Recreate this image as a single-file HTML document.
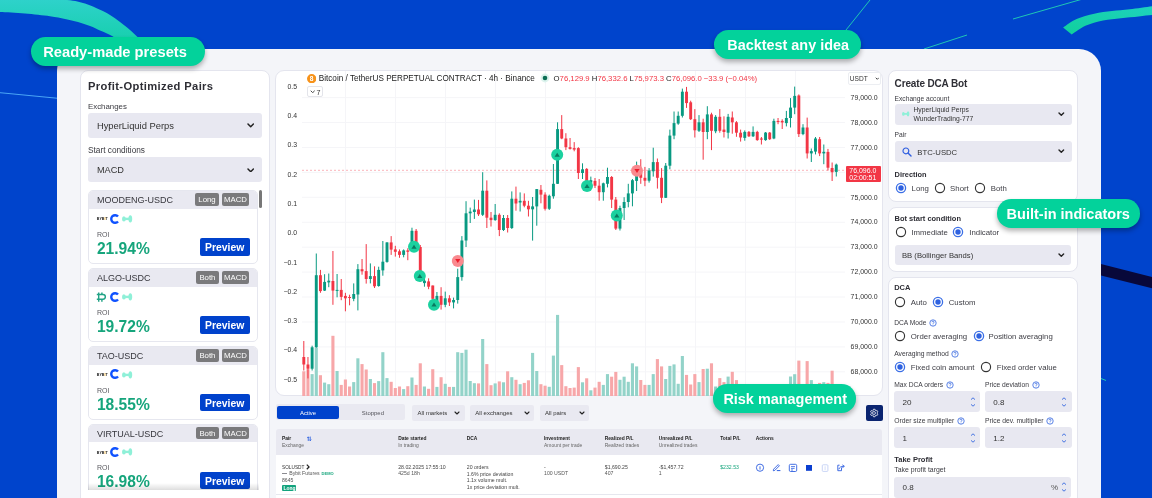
<!DOCTYPE html>
<html><head><meta charset="utf-8">
<style>
*{margin:0;padding:0;box-sizing:border-box}
html,body{width:1152px;height:498px;overflow:hidden}
body{background:#0044cc;font-family:"Liberation Sans",sans-serif;color:#2b2b33;position:relative}
.a{position:absolute}
.t{position:absolute;line-height:1;white-space:nowrap}
#deco{position:absolute;left:0;top:0}
#panel{position:absolute;left:57px;top:49px;width:1044px;height:480px;background:#f4f5f9;border-radius:22px}
.card{position:absolute;background:#fff;border:1px solid #e4e5ee;border-radius:8px}
.pill{position:absolute;background:#03d29b;box-shadow:0 3px 5px rgba(0,0,0,.3)}
.item{width:169.8px;height:73.6px;background:#fff;border:1px solid #e6e7ef;border-radius:5px;overflow:hidden}
.ihd{position:absolute;left:0;top:0;right:0;height:17.5px;background:#e9e9f1}
.tag{height:12.5px;background:#7a7a7c;border-radius:2px;color:#fff;font-size:7.8px;line-height:14.2px;text-align:center}
.prev{width:49.85px;height:17.5px;background:#0042cc;border-radius:2px;color:#fff;font-weight:bold;font-size:10.4px;line-height:19.2px;text-align:center}
#chart{position:absolute;left:0;top:0}
#root{position:absolute;left:0;top:0;width:1152px;height:498px;overflow:hidden;will-change:transform}
</style></head><body><div id="root">
<svg id="deco" width="1152" height="498" viewBox="0 0 1152 498">
<defs><linearGradient id="tg" x1="0" y1="0" x2="0" y2="1"><stop offset="0" stop-color="#2fd2cc"/><stop offset="1" stop-color="#16cfac"/></linearGradient><linearGradient id="tg2" x1="1" y1="0" x2="0" y2="1"><stop offset="0" stop-color="#1fd2c0"/><stop offset="1" stop-color="#10d09c"/></linearGradient></defs>
<path d="M-5.00,-2.50 C0.83,-2.38 18.00,-2.22 30.00,-1.80 C42.00,-1.38 57.83,-0.90 67.00,0.00 C76.17,0.90 79.50,1.97 85.00,3.60 C90.50,5.23 95.83,7.90 100.00,9.80 C104.17,11.70 106.67,12.97 110.00,15.00 C113.33,17.03 116.67,19.50 120.00,22.00 C123.33,24.50 127.17,27.58 130.00,30.00 C132.83,32.42 135.00,34.50 137.00,36.50 C139.00,38.50 141.17,41.08 142.00,42.00 L118.00,42.00 C117.17,41.08 114.83,37.93 113.00,36.50 C111.17,35.07 109.17,34.42 107.00,33.40 C104.83,32.38 102.83,31.63 100.00,30.40 C97.17,29.17 93.67,27.40 90.00,26.00 C86.33,24.60 82.17,23.17 78.00,22.00 C73.83,20.83 69.67,19.95 65.00,19.00 C60.33,18.05 56.67,17.20 50.00,16.30 C43.33,15.40 33.33,14.30 25.00,13.60 C16.67,12.90 5.00,12.38 0.00,12.10 C-5.00,11.82 -4.17,11.93 -5.00,11.90 Z" fill="url(#tg)"/>
<path d="M1063.10,27.50 C1065.35,26.08 1071.40,21.30 1076.60,19.00 C1081.80,16.70 1088.40,15.02 1094.30,13.70 C1100.20,12.38 1106.10,11.83 1112.00,11.10 C1117.90,10.37 1123.03,10.12 1129.70,9.30 C1136.37,8.48 1146.95,6.92 1152.00,6.20 C1157.05,5.48 1158.67,5.20 1160.00,5.00 L1160.00,14.50 C1158.67,14.60 1155.57,14.78 1152.00,15.10 C1148.43,15.42 1143.78,15.88 1138.60,16.40 C1133.42,16.92 1126.82,17.53 1120.90,18.20 C1114.98,18.87 1109.02,19.15 1103.10,20.40 C1097.18,21.65 1090.63,23.37 1085.40,25.70 C1080.17,28.03 1073.98,32.95 1071.70,34.40 Z" fill="url(#tg2)"/>
<line x1="0" y1="92.7" x2="60" y2="98.5" stroke="#4aa6f5" stroke-width="1"/>
<line x1="870" y1="0" x2="846" y2="30" stroke="#1fc7b4" stroke-width="1"/>
<line x1="967" y1="35" x2="924" y2="49" stroke="#1fc7b4" stroke-width="1"/>
<line x1="1013" y1="19" x2="1081" y2="-0.5" stroke="#1fc7b4" stroke-width="1"/>
<path d="M1095,262.6 L1160,279 L1160,290.3 L1095,273.9 Z" fill="#08083a"/>
<line x1="1101" y1="378.5" x2="1106" y2="380.5" stroke="#1fc7b4" stroke-width="1"/>
</svg>

<div id="panel"></div>

<div class="card" style="left:80px;top:70px;width:190px;height:460px"></div>
<div class="card" style="left:275px;top:70px;width:608px;height:326.3px;border-radius:9px"></div>
<div class="card" style="left:888px;top:70px;width:190px;height:132px"></div>
<div class="card" style="left:888px;top:207px;width:190px;height:65px"></div>
<div class="card" style="left:888px;top:277px;width:190px;height:260px"></div>

<svg id="chart" width="1152" height="498" viewBox="0 0 1152 498">
<line x1="302" y1="97.60" x2="845" y2="97.60" stroke="#f5f5f8" stroke-width="1"/>
<line x1="302" y1="122.53" x2="845" y2="122.53" stroke="#f5f5f8" stroke-width="1"/>
<line x1="302" y1="147.46" x2="845" y2="147.46" stroke="#f5f5f8" stroke-width="1"/>
<line x1="302" y1="172.39" x2="845" y2="172.39" stroke="#f5f5f8" stroke-width="1"/>
<line x1="302" y1="197.32" x2="845" y2="197.32" stroke="#f5f5f8" stroke-width="1"/>
<line x1="302" y1="222.25" x2="845" y2="222.25" stroke="#f5f5f8" stroke-width="1"/>
<line x1="302" y1="247.18" x2="845" y2="247.18" stroke="#f5f5f8" stroke-width="1"/>
<line x1="302" y1="272.11" x2="845" y2="272.11" stroke="#f5f5f8" stroke-width="1"/>
<line x1="302" y1="297.04" x2="845" y2="297.04" stroke="#f5f5f8" stroke-width="1"/>
<line x1="302" y1="321.97" x2="845" y2="321.97" stroke="#f5f5f8" stroke-width="1"/>
<line x1="302" y1="346.90" x2="845" y2="346.90" stroke="#f5f5f8" stroke-width="1"/>
<line x1="302" y1="371.83" x2="845" y2="371.83" stroke="#f5f5f8" stroke-width="1"/>
<line x1="345.5" y1="71" x2="345.5" y2="396" stroke="#f5f5f8" stroke-width="1"/>
<line x1="395.5" y1="71" x2="395.5" y2="396" stroke="#f5f5f8" stroke-width="1"/>
<line x1="445.5" y1="71" x2="445.5" y2="396" stroke="#f5f5f8" stroke-width="1"/>
<line x1="495.5" y1="71" x2="495.5" y2="396" stroke="#f5f5f8" stroke-width="1"/>
<line x1="545.5" y1="71" x2="545.5" y2="396" stroke="#f5f5f8" stroke-width="1"/>
<line x1="595.5" y1="71" x2="595.5" y2="396" stroke="#f5f5f8" stroke-width="1"/>
<line x1="645.5" y1="71" x2="645.5" y2="396" stroke="#f5f5f8" stroke-width="1"/>
<line x1="695.5" y1="71" x2="695.5" y2="396" stroke="#f5f5f8" stroke-width="1"/>
<line x1="745.5" y1="71" x2="745.5" y2="396" stroke="#f5f5f8" stroke-width="1"/>
<line x1="795.5" y1="71" x2="795.5" y2="396" stroke="#f5f5f8" stroke-width="1"/>
<rect x="302.25" y="371.30" width="3.1" height="24.70" fill="#f7a7a9"/>
<rect x="306.41" y="369.20" width="3.1" height="26.80" fill="#f7a7a9"/>
<rect x="310.57" y="374.10" width="3.1" height="21.90" fill="#93d3c9"/>
<rect x="314.73" y="347.80" width="3.1" height="48.20" fill="#93d3c9"/>
<rect x="318.89" y="375.20" width="3.1" height="20.80" fill="#f7a7a9"/>
<rect x="323.05" y="382.60" width="3.1" height="13.40" fill="#93d3c9"/>
<rect x="327.21" y="384.20" width="3.1" height="11.80" fill="#93d3c9"/>
<rect x="331.37" y="335.80" width="3.1" height="60.20" fill="#f7a7a9"/>
<rect x="335.53" y="371.00" width="3.1" height="25.00" fill="#93d3c9"/>
<rect x="339.69" y="384.90" width="3.1" height="11.10" fill="#f7a7a9"/>
<rect x="343.85" y="379.50" width="3.1" height="16.50" fill="#f7a7a9"/>
<rect x="348.01" y="386.50" width="3.1" height="9.50" fill="#f7a7a9"/>
<rect x="352.17" y="382.10" width="3.1" height="13.90" fill="#93d3c9"/>
<rect x="356.33" y="358.30" width="3.1" height="37.70" fill="#93d3c9"/>
<rect x="360.49" y="364.10" width="3.1" height="31.90" fill="#f7a7a9"/>
<rect x="364.65" y="369.50" width="3.1" height="26.50" fill="#f7a7a9"/>
<rect x="368.81" y="379.00" width="3.1" height="17.00" fill="#93d3c9"/>
<rect x="372.97" y="383.10" width="3.1" height="12.90" fill="#f7a7a9"/>
<rect x="377.13" y="381.10" width="3.1" height="14.90" fill="#93d3c9"/>
<rect x="381.29" y="352.20" width="3.1" height="43.80" fill="#93d3c9"/>
<rect x="385.45" y="378.10" width="3.1" height="17.90" fill="#93d3c9"/>
<rect x="389.61" y="381.80" width="3.1" height="14.20" fill="#f7a7a9"/>
<rect x="393.77" y="388.00" width="3.1" height="8.00" fill="#f7a7a9"/>
<rect x="397.93" y="386.50" width="3.1" height="9.50" fill="#f7a7a9"/>
<rect x="402.09" y="389.10" width="3.1" height="6.90" fill="#93d3c9"/>
<rect x="406.25" y="386.20" width="3.1" height="9.80" fill="#f7a7a9"/>
<rect x="410.41" y="377.50" width="3.1" height="18.50" fill="#93d3c9"/>
<rect x="414.57" y="384.90" width="3.1" height="11.10" fill="#f7a7a9"/>
<rect x="418.73" y="363.30" width="3.1" height="32.70" fill="#f7a7a9"/>
<rect x="422.89" y="386.50" width="3.1" height="9.50" fill="#93d3c9"/>
<rect x="427.05" y="388.80" width="3.1" height="7.20" fill="#f7a7a9"/>
<rect x="431.21" y="369.20" width="3.1" height="26.80" fill="#f7a7a9"/>
<rect x="435.37" y="386.90" width="3.1" height="9.10" fill="#93d3c9"/>
<rect x="439.53" y="377.20" width="3.1" height="18.80" fill="#f7a7a9"/>
<rect x="443.69" y="383.80" width="3.1" height="12.20" fill="#93d3c9"/>
<rect x="447.85" y="386.90" width="3.1" height="9.10" fill="#f7a7a9"/>
<rect x="452.01" y="386.90" width="3.1" height="9.10" fill="#93d3c9"/>
<rect x="456.17" y="352.20" width="3.1" height="43.80" fill="#93d3c9"/>
<rect x="460.33" y="352.90" width="3.1" height="43.10" fill="#93d3c9"/>
<rect x="464.49" y="349.70" width="3.1" height="46.30" fill="#93d3c9"/>
<rect x="468.65" y="381.00" width="3.1" height="15.00" fill="#93d3c9"/>
<rect x="472.81" y="383.20" width="3.1" height="12.80" fill="#93d3c9"/>
<rect x="476.97" y="383.40" width="3.1" height="12.60" fill="#f7a7a9"/>
<rect x="481.13" y="339.00" width="3.1" height="57.00" fill="#93d3c9"/>
<rect x="485.29" y="364.10" width="3.1" height="31.90" fill="#f7a7a9"/>
<rect x="489.45" y="385.20" width="3.1" height="10.80" fill="#f7a7a9"/>
<rect x="493.61" y="383.40" width="3.1" height="12.60" fill="#93d3c9"/>
<rect x="497.77" y="381.40" width="3.1" height="14.60" fill="#f7a7a9"/>
<rect x="501.93" y="382.30" width="3.1" height="13.70" fill="#93d3c9"/>
<rect x="506.09" y="371.30" width="3.1" height="24.70" fill="#f7a7a9"/>
<rect x="510.25" y="377.20" width="3.1" height="18.80" fill="#93d3c9"/>
<rect x="514.41" y="379.80" width="3.1" height="16.20" fill="#f7a7a9"/>
<rect x="518.57" y="384.20" width="3.1" height="11.80" fill="#93d3c9"/>
<rect x="522.73" y="382.90" width="3.1" height="13.10" fill="#f7a7a9"/>
<rect x="526.89" y="380.30" width="3.1" height="15.70" fill="#f7a7a9"/>
<rect x="531.05" y="352.90" width="3.1" height="43.10" fill="#93d3c9"/>
<rect x="535.21" y="371.00" width="3.1" height="25.00" fill="#93d3c9"/>
<rect x="539.37" y="384.20" width="3.1" height="11.80" fill="#f7a7a9"/>
<rect x="543.53" y="385.70" width="3.1" height="10.30" fill="#f7a7a9"/>
<rect x="547.69" y="386.80" width="3.1" height="9.20" fill="#93d3c9"/>
<rect x="551.85" y="355.60" width="3.1" height="40.40" fill="#93d3c9"/>
<rect x="556.01" y="314.90" width="3.1" height="81.10" fill="#93d3c9"/>
<rect x="560.17" y="365.10" width="3.1" height="30.90" fill="#f7a7a9"/>
<rect x="564.33" y="386.20" width="3.1" height="9.80" fill="#f7a7a9"/>
<rect x="568.49" y="388.00" width="3.1" height="8.00" fill="#f7a7a9"/>
<rect x="572.65" y="387.60" width="3.1" height="8.40" fill="#f7a7a9"/>
<rect x="576.81" y="367.10" width="3.1" height="28.90" fill="#f7a7a9"/>
<rect x="580.97" y="382.30" width="3.1" height="13.70" fill="#93d3c9"/>
<rect x="585.13" y="378.30" width="3.1" height="17.70" fill="#f7a7a9"/>
<rect x="589.29" y="390.30" width="3.1" height="5.70" fill="#93d3c9"/>
<rect x="593.45" y="387.60" width="3.1" height="8.40" fill="#f7a7a9"/>
<rect x="597.61" y="381.80" width="3.1" height="14.20" fill="#f7a7a9"/>
<rect x="601.77" y="384.90" width="3.1" height="11.10" fill="#93d3c9"/>
<rect x="605.93" y="374.10" width="3.1" height="21.90" fill="#93d3c9"/>
<rect x="610.09" y="376.70" width="3.1" height="19.30" fill="#f7a7a9"/>
<rect x="614.25" y="371.90" width="3.1" height="24.10" fill="#f7a7a9"/>
<rect x="618.41" y="379.80" width="3.1" height="16.20" fill="#93d3c9"/>
<rect x="622.57" y="376.70" width="3.1" height="19.30" fill="#93d3c9"/>
<rect x="626.73" y="381.80" width="3.1" height="14.20" fill="#93d3c9"/>
<rect x="630.89" y="363.30" width="3.1" height="32.70" fill="#93d3c9"/>
<rect x="635.05" y="366.40" width="3.1" height="29.60" fill="#93d3c9"/>
<rect x="639.21" y="380.00" width="3.1" height="16.00" fill="#f7a7a9"/>
<rect x="643.37" y="384.90" width="3.1" height="11.10" fill="#f7a7a9"/>
<rect x="647.53" y="384.90" width="3.1" height="11.10" fill="#93d3c9"/>
<rect x="651.69" y="374.10" width="3.1" height="21.90" fill="#93d3c9"/>
<rect x="655.85" y="359.10" width="3.1" height="36.90" fill="#f7a7a9"/>
<rect x="660.01" y="366.40" width="3.1" height="29.60" fill="#f7a7a9"/>
<rect x="664.17" y="379.00" width="3.1" height="17.00" fill="#93d3c9"/>
<rect x="668.33" y="365.90" width="3.1" height="30.10" fill="#93d3c9"/>
<rect x="672.49" y="364.40" width="3.1" height="31.60" fill="#93d3c9"/>
<rect x="676.65" y="383.80" width="3.1" height="12.20" fill="#93d3c9"/>
<rect x="680.81" y="356.00" width="3.1" height="40.00" fill="#93d3c9"/>
<rect x="684.97" y="374.90" width="3.1" height="21.10" fill="#f7a7a9"/>
<rect x="689.13" y="384.50" width="3.1" height="11.50" fill="#f7a7a9"/>
<rect x="693.29" y="374.10" width="3.1" height="21.90" fill="#f7a7a9"/>
<rect x="697.45" y="382.10" width="3.1" height="13.90" fill="#93d3c9"/>
<rect x="701.61" y="369.00" width="3.1" height="27.00" fill="#f7a7a9"/>
<rect x="705.77" y="368.70" width="3.1" height="27.30" fill="#93d3c9"/>
<rect x="709.93" y="363.30" width="3.1" height="32.70" fill="#f7a7a9"/>
<rect x="714.09" y="386.50" width="3.1" height="9.50" fill="#93d3c9"/>
<rect x="718.25" y="378.10" width="3.1" height="17.90" fill="#f7a7a9"/>
<rect x="722.41" y="382.10" width="3.1" height="13.90" fill="#f7a7a9"/>
<rect x="726.57" y="376.60" width="3.1" height="19.40" fill="#93d3c9"/>
<rect x="730.73" y="371.80" width="3.1" height="24.20" fill="#f7a7a9"/>
<rect x="734.89" y="380.10" width="3.1" height="15.90" fill="#f7a7a9"/>
<rect x="739.05" y="388.00" width="3.1" height="8.00" fill="#f7a7a9"/>
<rect x="743.21" y="388.00" width="3.1" height="8.00" fill="#93d3c9"/>
<rect x="747.37" y="388.00" width="3.1" height="8.00" fill="#f7a7a9"/>
<rect x="751.53" y="388.00" width="3.1" height="8.00" fill="#93d3c9"/>
<rect x="755.69" y="388.00" width="3.1" height="8.00" fill="#f7a7a9"/>
<rect x="759.85" y="388.00" width="3.1" height="8.00" fill="#f7a7a9"/>
<rect x="764.01" y="388.00" width="3.1" height="8.00" fill="#93d3c9"/>
<rect x="768.17" y="388.00" width="3.1" height="8.00" fill="#f7a7a9"/>
<rect x="772.33" y="388.00" width="3.1" height="8.00" fill="#93d3c9"/>
<rect x="776.49" y="388.00" width="3.1" height="8.00" fill="#f7a7a9"/>
<rect x="780.65" y="388.00" width="3.1" height="8.00" fill="#f7a7a9"/>
<rect x="784.81" y="388.00" width="3.1" height="8.00" fill="#93d3c9"/>
<rect x="788.97" y="376.50" width="3.1" height="19.50" fill="#93d3c9"/>
<rect x="793.13" y="374.20" width="3.1" height="21.80" fill="#93d3c9"/>
<rect x="797.29" y="360.60" width="3.1" height="35.40" fill="#f7a7a9"/>
<rect x="801.45" y="388.00" width="3.1" height="8.00" fill="#93d3c9"/>
<rect x="805.61" y="361.10" width="3.1" height="34.90" fill="#f7a7a9"/>
<rect x="809.77" y="380.10" width="3.1" height="15.90" fill="#93d3c9"/>
<rect x="813.93" y="388.00" width="3.1" height="8.00" fill="#93d3c9"/>
<rect x="818.09" y="382.90" width="3.1" height="13.10" fill="#f7a7a9"/>
<rect x="822.25" y="382.20" width="3.1" height="13.80" fill="#93d3c9"/>
<rect x="826.41" y="382.90" width="3.1" height="13.10" fill="#f7a7a9"/>
<rect x="830.57" y="370.70" width="3.1" height="25.30" fill="#f7a7a9"/>
<rect x="834.73" y="388.00" width="3.1" height="8.00" fill="#93d3c9"/>
<line x1="302" y1="170.3" x2="846" y2="170.3" stroke="#f23645" stroke-width="0.75" stroke-dasharray="2 2" opacity="0.5"/>
<rect x="303.30" y="341.00" width="1" height="29.50" fill="#f23645"/>
<rect x="302.35" y="357.00" width="2.9" height="7.50" fill="#f23645"/>
<rect x="307.46" y="357.00" width="1" height="21.40" fill="#f23645"/>
<rect x="306.51" y="364.50" width="2.9" height="4.20" fill="#f23645"/>
<rect x="311.62" y="345.70" width="1" height="24.80" fill="#089981"/>
<rect x="310.67" y="347.30" width="2.9" height="21.40" fill="#089981"/>
<rect x="315.78" y="253.50" width="1" height="94.20" fill="#089981"/>
<rect x="314.83" y="275.20" width="2.9" height="72.10" fill="#089981"/>
<rect x="319.94" y="269.90" width="1" height="22.90" fill="#f23645"/>
<rect x="318.99" y="275.20" width="2.9" height="15.90" fill="#f23645"/>
<rect x="324.10" y="274.20" width="1" height="16.80" fill="#089981"/>
<rect x="323.15" y="281.90" width="2.9" height="8.70" fill="#089981"/>
<rect x="328.26" y="273.50" width="1" height="13.70" fill="#089981"/>
<rect x="327.31" y="280.70" width="2.9" height="1.70" fill="#089981"/>
<rect x="332.42" y="251.00" width="1" height="53.80" fill="#f23645"/>
<rect x="331.47" y="281.00" width="2.9" height="9.60" fill="#f23645"/>
<rect x="336.58" y="274.00" width="1" height="23.30" fill="#089981"/>
<rect x="335.63" y="289.90" width="2.9" height="1.00" fill="#089981"/>
<rect x="340.74" y="279.00" width="1" height="21.20" fill="#f23645"/>
<rect x="339.79" y="289.90" width="2.9" height="7.00" fill="#f23645"/>
<rect x="344.90" y="292.80" width="1" height="18.50" fill="#f23645"/>
<rect x="343.95" y="295.90" width="2.9" height="2.40" fill="#f23645"/>
<rect x="349.06" y="294.70" width="1" height="10.60" fill="#f23645"/>
<rect x="348.11" y="297.00" width="2.9" height="1.00" fill="#f23645"/>
<rect x="353.22" y="283.40" width="1" height="17.80" fill="#089981"/>
<rect x="352.27" y="294.00" width="2.9" height="4.80" fill="#089981"/>
<rect x="357.38" y="264.10" width="1" height="46.30" fill="#089981"/>
<rect x="356.43" y="269.20" width="2.9" height="25.30" fill="#089981"/>
<rect x="361.54" y="259.00" width="1" height="15.70" fill="#f23645"/>
<rect x="360.59" y="269.20" width="2.9" height="2.10" fill="#f23645"/>
<rect x="365.70" y="244.10" width="1" height="39.50" fill="#f23645"/>
<rect x="364.75" y="271.10" width="2.9" height="7.90" fill="#f23645"/>
<rect x="369.86" y="263.40" width="1" height="20.00" fill="#089981"/>
<rect x="368.91" y="276.10" width="2.9" height="2.90" fill="#089981"/>
<rect x="374.02" y="266.30" width="1" height="21.70" fill="#f23645"/>
<rect x="373.07" y="276.10" width="2.9" height="10.20" fill="#f23645"/>
<rect x="378.18" y="266.70" width="1" height="20.00" fill="#089981"/>
<rect x="377.23" y="269.90" width="2.9" height="16.10" fill="#089981"/>
<rect x="382.34" y="241.00" width="1" height="34.70" fill="#089981"/>
<rect x="381.39" y="261.70" width="2.9" height="8.70" fill="#089981"/>
<rect x="386.50" y="242.20" width="1" height="20.50" fill="#089981"/>
<rect x="385.55" y="242.40" width="2.9" height="19.50" fill="#089981"/>
<rect x="390.66" y="236.10" width="1" height="18.80" fill="#f23645"/>
<rect x="389.71" y="242.40" width="2.9" height="7.20" fill="#f23645"/>
<rect x="394.82" y="245.80" width="1" height="10.80" fill="#f23645"/>
<rect x="393.87" y="249.40" width="2.9" height="2.40" fill="#f23645"/>
<rect x="398.98" y="249.40" width="1" height="8.40" fill="#f23645"/>
<rect x="398.03" y="251.30" width="2.9" height="3.60" fill="#f23645"/>
<rect x="403.14" y="249.40" width="1" height="7.90" fill="#089981"/>
<rect x="402.19" y="250.40" width="2.9" height="4.50" fill="#089981"/>
<rect x="407.30" y="248.20" width="1" height="12.00" fill="#f23645"/>
<rect x="406.35" y="250.40" width="2.9" height="1.40" fill="#f23645"/>
<rect x="411.46" y="227.70" width="1" height="17.30" fill="#089981"/>
<rect x="410.51" y="230.80" width="2.9" height="13.80" fill="#089981"/>
<rect x="415.62" y="229.00" width="1" height="19.00" fill="#f23645"/>
<rect x="414.67" y="230.80" width="2.9" height="16.20" fill="#f23645"/>
<rect x="419.78" y="245.00" width="1" height="37.00" fill="#f23645"/>
<rect x="418.83" y="247.00" width="2.9" height="25.30" fill="#f23645"/>
<rect x="423.94" y="278.30" width="1" height="8.40" fill="#089981"/>
<rect x="422.99" y="280.70" width="2.9" height="2.40" fill="#089981"/>
<rect x="428.10" y="278.30" width="1" height="10.90" fill="#f23645"/>
<rect x="427.15" y="281.40" width="2.9" height="5.30" fill="#f23645"/>
<rect x="432.26" y="285.50" width="1" height="15.70" fill="#f23645"/>
<rect x="431.31" y="285.50" width="2.9" height="13.30" fill="#f23645"/>
<rect x="436.42" y="292.00" width="1" height="14.00" fill="#089981"/>
<rect x="435.47" y="295.90" width="2.9" height="5.30" fill="#089981"/>
<rect x="440.58" y="287.20" width="1" height="22.40" fill="#f23645"/>
<rect x="439.63" y="295.90" width="2.9" height="8.90" fill="#f23645"/>
<rect x="444.74" y="291.60" width="1" height="15.60" fill="#089981"/>
<rect x="443.79" y="298.30" width="2.9" height="6.50" fill="#089981"/>
<rect x="448.90" y="295.20" width="1" height="10.80" fill="#f23645"/>
<rect x="447.95" y="298.30" width="2.9" height="4.10" fill="#f23645"/>
<rect x="453.06" y="297.60" width="1" height="10.80" fill="#089981"/>
<rect x="452.11" y="300.00" width="2.9" height="2.40" fill="#089981"/>
<rect x="457.22" y="268.70" width="1" height="34.90" fill="#089981"/>
<rect x="456.27" y="277.10" width="2.9" height="22.90" fill="#089981"/>
<rect x="461.38" y="236.10" width="1" height="44.60" fill="#089981"/>
<rect x="460.43" y="240.50" width="2.9" height="36.60" fill="#089981"/>
<rect x="465.54" y="201.20" width="1" height="45.80" fill="#089981"/>
<rect x="464.59" y="213.30" width="2.9" height="27.20" fill="#089981"/>
<rect x="469.70" y="207.60" width="1" height="15.40" fill="#089981"/>
<rect x="468.75" y="211.60" width="2.9" height="1.70" fill="#089981"/>
<rect x="473.86" y="199.60" width="1" height="19.30" fill="#089981"/>
<rect x="472.91" y="209.50" width="2.9" height="2.50" fill="#089981"/>
<rect x="478.02" y="199.90" width="1" height="16.10" fill="#f23645"/>
<rect x="477.07" y="209.50" width="2.9" height="4.80" fill="#f23645"/>
<rect x="482.18" y="172.20" width="1" height="43.80" fill="#089981"/>
<rect x="481.23" y="190.70" width="2.9" height="24.10" fill="#089981"/>
<rect x="486.34" y="180.40" width="1" height="47.60" fill="#f23645"/>
<rect x="485.39" y="190.70" width="2.9" height="27.00" fill="#f23645"/>
<rect x="490.50" y="212.00" width="1" height="14.50" fill="#f23645"/>
<rect x="489.55" y="217.70" width="2.9" height="2.40" fill="#f23645"/>
<rect x="494.66" y="204.00" width="1" height="16.80" fill="#089981"/>
<rect x="493.71" y="214.80" width="2.9" height="5.30" fill="#089981"/>
<rect x="498.82" y="213.30" width="1" height="22.80" fill="#f23645"/>
<rect x="497.87" y="214.80" width="2.9" height="15.20" fill="#f23645"/>
<rect x="502.98" y="215.00" width="1" height="16.00" fill="#089981"/>
<rect x="502.03" y="218.00" width="2.9" height="12.00" fill="#089981"/>
<rect x="507.14" y="215.00" width="1" height="17.50" fill="#f23645"/>
<rect x="506.19" y="218.00" width="2.9" height="10.00" fill="#f23645"/>
<rect x="511.30" y="191.40" width="1" height="37.60" fill="#089981"/>
<rect x="510.35" y="198.70" width="2.9" height="29.30" fill="#089981"/>
<rect x="515.46" y="186.60" width="1" height="24.10" fill="#f23645"/>
<rect x="514.51" y="198.70" width="2.9" height="4.80" fill="#f23645"/>
<rect x="519.62" y="192.40" width="1" height="19.10" fill="#089981"/>
<rect x="518.67" y="200.80" width="2.9" height="1.70" fill="#089981"/>
<rect x="523.78" y="193.40" width="1" height="13.90" fill="#f23645"/>
<rect x="522.83" y="200.80" width="2.9" height="4.90" fill="#f23645"/>
<rect x="527.94" y="200.80" width="1" height="15.70" fill="#f23645"/>
<rect x="526.99" y="205.70" width="2.9" height="3.60" fill="#f23645"/>
<rect x="532.10" y="197.00" width="1" height="43.60" fill="#089981"/>
<rect x="531.15" y="206.40" width="2.9" height="2.90" fill="#089981"/>
<rect x="536.26" y="189.00" width="1" height="36.70" fill="#089981"/>
<rect x="535.31" y="189.10" width="2.9" height="17.30" fill="#089981"/>
<rect x="540.42" y="185.00" width="1" height="18.30" fill="#f23645"/>
<rect x="539.47" y="189.80" width="2.9" height="4.80" fill="#f23645"/>
<rect x="544.58" y="192.30" width="1" height="18.20" fill="#f23645"/>
<rect x="543.63" y="194.60" width="2.9" height="14.20" fill="#f23645"/>
<rect x="548.74" y="194.60" width="1" height="15.40" fill="#089981"/>
<rect x="547.79" y="195.80" width="2.9" height="13.00" fill="#089981"/>
<rect x="552.90" y="164.00" width="1" height="34.70" fill="#089981"/>
<rect x="551.95" y="183.80" width="2.9" height="12.50" fill="#089981"/>
<rect x="557.06" y="122.30" width="1" height="61.70" fill="#089981"/>
<rect x="556.11" y="129.10" width="2.9" height="54.70" fill="#089981"/>
<rect x="561.22" y="115.10" width="1" height="24.10" fill="#f23645"/>
<rect x="560.27" y="129.10" width="2.9" height="9.40" fill="#f23645"/>
<rect x="565.38" y="133.20" width="1" height="16.90" fill="#f23645"/>
<rect x="564.43" y="138.50" width="2.9" height="8.70" fill="#f23645"/>
<rect x="569.54" y="138.00" width="1" height="11.60" fill="#f23645"/>
<rect x="568.59" y="147.20" width="2.9" height="1.70" fill="#f23645"/>
<rect x="573.70" y="142.10" width="1" height="9.20" fill="#f23645"/>
<rect x="572.75" y="148.10" width="2.9" height="1.50" fill="#f23645"/>
<rect x="577.86" y="147.20" width="1" height="31.80" fill="#f23645"/>
<rect x="576.91" y="148.10" width="2.9" height="24.90" fill="#f23645"/>
<rect x="582.02" y="163.30" width="1" height="15.70" fill="#089981"/>
<rect x="581.07" y="169.30" width="2.9" height="3.70" fill="#089981"/>
<rect x="586.18" y="168.10" width="1" height="15.70" fill="#f23645"/>
<rect x="585.23" y="168.90" width="2.9" height="12.50" fill="#f23645"/>
<rect x="590.34" y="176.60" width="1" height="12.00" fill="#089981"/>
<rect x="589.39" y="180.20" width="2.9" height="2.40" fill="#089981"/>
<rect x="594.50" y="178.00" width="1" height="10.00" fill="#f23645"/>
<rect x="593.55" y="180.90" width="2.9" height="4.80" fill="#f23645"/>
<rect x="598.66" y="179.00" width="1" height="21.70" fill="#f23645"/>
<rect x="597.71" y="185.70" width="2.9" height="6.50" fill="#f23645"/>
<rect x="602.82" y="182.60" width="1" height="18.10" fill="#089981"/>
<rect x="601.87" y="183.30" width="2.9" height="8.90" fill="#089981"/>
<rect x="606.98" y="167.70" width="1" height="19.70" fill="#089981"/>
<rect x="606.03" y="177.00" width="2.9" height="6.80" fill="#089981"/>
<rect x="611.14" y="176.00" width="1" height="32.00" fill="#f23645"/>
<rect x="610.19" y="177.00" width="2.9" height="22.60" fill="#f23645"/>
<rect x="615.30" y="197.00" width="1" height="33.00" fill="#f23645"/>
<rect x="614.35" y="199.60" width="2.9" height="29.00" fill="#f23645"/>
<rect x="619.46" y="205.70" width="1" height="24.80" fill="#089981"/>
<rect x="618.51" y="208.00" width="2.9" height="20.60" fill="#089981"/>
<rect x="623.62" y="197.20" width="1" height="22.80" fill="#089981"/>
<rect x="622.67" y="202.00" width="2.9" height="6.00" fill="#089981"/>
<rect x="627.78" y="183.80" width="1" height="23.50" fill="#089981"/>
<rect x="626.83" y="193.40" width="2.9" height="8.60" fill="#089981"/>
<rect x="631.94" y="179.00" width="1" height="27.30" fill="#089981"/>
<rect x="630.99" y="180.20" width="2.9" height="13.20" fill="#089981"/>
<rect x="636.10" y="161.60" width="1" height="29.40" fill="#089981"/>
<rect x="635.15" y="175.40" width="2.9" height="5.50" fill="#089981"/>
<rect x="640.26" y="159.20" width="1" height="24.60" fill="#f23645"/>
<rect x="639.31" y="173.00" width="2.9" height="4.80" fill="#f23645"/>
<rect x="644.42" y="166.90" width="1" height="19.30" fill="#f23645"/>
<rect x="643.47" y="177.80" width="2.9" height="2.90" fill="#f23645"/>
<rect x="648.58" y="168.10" width="1" height="14.50" fill="#089981"/>
<rect x="647.63" y="170.50" width="2.9" height="10.20" fill="#089981"/>
<rect x="652.74" y="147.70" width="1" height="28.90" fill="#089981"/>
<rect x="651.79" y="162.10" width="2.9" height="9.20" fill="#089981"/>
<rect x="656.90" y="158.50" width="1" height="30.10" fill="#f23645"/>
<rect x="655.95" y="162.10" width="2.9" height="15.70" fill="#f23645"/>
<rect x="661.06" y="168.10" width="1" height="35.00" fill="#f23645"/>
<rect x="660.11" y="177.80" width="2.9" height="20.00" fill="#f23645"/>
<rect x="665.22" y="163.00" width="1" height="35.00" fill="#089981"/>
<rect x="664.27" y="165.70" width="2.9" height="32.10" fill="#089981"/>
<rect x="669.38" y="129.60" width="1" height="39.70" fill="#089981"/>
<rect x="668.43" y="135.60" width="2.9" height="30.10" fill="#089981"/>
<rect x="673.54" y="111.50" width="1" height="27.70" fill="#089981"/>
<rect x="672.59" y="123.10" width="2.9" height="12.50" fill="#089981"/>
<rect x="677.70" y="111.50" width="1" height="13.30" fill="#089981"/>
<rect x="676.75" y="115.80" width="2.9" height="7.80" fill="#089981"/>
<rect x="681.86" y="88.60" width="1" height="28.90" fill="#089981"/>
<rect x="680.91" y="91.70" width="2.9" height="24.10" fill="#089981"/>
<rect x="686.02" y="86.90" width="1" height="21.00" fill="#f23645"/>
<rect x="685.07" y="91.70" width="2.9" height="11.40" fill="#f23645"/>
<rect x="690.18" y="100.70" width="1" height="19.30" fill="#f23645"/>
<rect x="689.23" y="102.30" width="2.9" height="16.90" fill="#f23645"/>
<rect x="694.34" y="109.10" width="1" height="28.40" fill="#f23645"/>
<rect x="693.39" y="119.20" width="2.9" height="11.10" fill="#f23645"/>
<rect x="698.50" y="115.10" width="1" height="16.90" fill="#089981"/>
<rect x="697.55" y="122.30" width="2.9" height="8.50" fill="#089981"/>
<rect x="702.66" y="118.70" width="1" height="41.00" fill="#f23645"/>
<rect x="701.71" y="122.30" width="2.9" height="9.70" fill="#f23645"/>
<rect x="706.82" y="106.20" width="1" height="33.00" fill="#089981"/>
<rect x="705.87" y="114.40" width="2.9" height="17.60" fill="#089981"/>
<rect x="710.98" y="112.70" width="1" height="37.40" fill="#f23645"/>
<rect x="710.03" y="114.40" width="2.9" height="16.40" fill="#f23645"/>
<rect x="715.14" y="115.10" width="1" height="18.10" fill="#089981"/>
<rect x="714.19" y="116.80" width="2.9" height="14.50" fill="#089981"/>
<rect x="719.30" y="109.10" width="1" height="23.60" fill="#f23645"/>
<rect x="718.35" y="116.80" width="2.9" height="14.00" fill="#f23645"/>
<rect x="723.46" y="116.30" width="1" height="21.20" fill="#f23645"/>
<rect x="722.51" y="129.60" width="2.9" height="2.40" fill="#f23645"/>
<rect x="727.62" y="113.90" width="1" height="24.60" fill="#089981"/>
<rect x="726.67" y="116.80" width="2.9" height="15.90" fill="#089981"/>
<rect x="731.78" y="111.50" width="1" height="22.20" fill="#f23645"/>
<rect x="730.83" y="117.50" width="2.9" height="4.80" fill="#f23645"/>
<rect x="735.94" y="121.10" width="1" height="15.70" fill="#f23645"/>
<rect x="734.99" y="122.30" width="2.9" height="10.40" fill="#f23645"/>
<rect x="740.10" y="129.60" width="1" height="12.00" fill="#f23645"/>
<rect x="739.15" y="132.70" width="2.9" height="4.80" fill="#f23645"/>
<rect x="744.26" y="130.40" width="1" height="10.30" fill="#089981"/>
<rect x="743.31" y="131.90" width="2.9" height="6.00" fill="#089981"/>
<rect x="748.42" y="131.00" width="1" height="6.00" fill="#f23645"/>
<rect x="747.47" y="131.90" width="2.9" height="4.40" fill="#f23645"/>
<rect x="752.58" y="126.40" width="1" height="10.60" fill="#089981"/>
<rect x="751.63" y="131.90" width="2.9" height="4.40" fill="#089981"/>
<rect x="756.74" y="130.80" width="1" height="10.00" fill="#f23645"/>
<rect x="755.79" y="131.90" width="2.9" height="8.20" fill="#f23645"/>
<rect x="760.90" y="137.00" width="1" height="7.50" fill="#f23645"/>
<rect x="759.95" y="138.50" width="2.9" height="1.10" fill="#f23645"/>
<rect x="765.06" y="132.00" width="1" height="8.80" fill="#089981"/>
<rect x="764.11" y="132.60" width="2.9" height="7.50" fill="#089981"/>
<rect x="769.22" y="132.00" width="1" height="8.00" fill="#f23645"/>
<rect x="768.27" y="132.60" width="2.9" height="6.60" fill="#f23645"/>
<rect x="773.38" y="118.70" width="1" height="20.50" fill="#089981"/>
<rect x="772.43" y="120.90" width="2.9" height="17.60" fill="#089981"/>
<rect x="777.54" y="118.00" width="1" height="6.20" fill="#f23645"/>
<rect x="776.59" y="120.90" width="2.9" height="1.10" fill="#f23645"/>
<rect x="781.70" y="119.30" width="1" height="9.70" fill="#f23645"/>
<rect x="780.75" y="120.90" width="2.9" height="1.50" fill="#f23645"/>
<rect x="785.86" y="110.90" width="1" height="15.50" fill="#089981"/>
<rect x="784.91" y="118.00" width="2.9" height="5.10" fill="#089981"/>
<rect x="790.02" y="98.10" width="1" height="29.40" fill="#089981"/>
<rect x="789.07" y="107.60" width="2.9" height="10.40" fill="#089981"/>
<rect x="794.18" y="86.60" width="1" height="27.60" fill="#089981"/>
<rect x="793.23" y="95.90" width="2.9" height="11.70" fill="#089981"/>
<rect x="798.34" y="94.40" width="1" height="42.60" fill="#f23645"/>
<rect x="797.39" y="95.50" width="2.9" height="38.60" fill="#f23645"/>
<rect x="802.50" y="124.20" width="1" height="11.00" fill="#089981"/>
<rect x="801.55" y="127.50" width="2.9" height="6.60" fill="#089981"/>
<rect x="806.66" y="117.60" width="1" height="40.90" fill="#f23645"/>
<rect x="805.71" y="127.50" width="2.9" height="25.90" fill="#f23645"/>
<rect x="810.82" y="148.50" width="1" height="13.50" fill="#089981"/>
<rect x="809.87" y="151.10" width="2.9" height="2.30" fill="#089981"/>
<rect x="814.98" y="137.00" width="1" height="17.40" fill="#089981"/>
<rect x="814.03" y="138.50" width="2.9" height="13.10" fill="#089981"/>
<rect x="819.14" y="137.00" width="1" height="19.10" fill="#f23645"/>
<rect x="818.19" y="139.20" width="2.9" height="14.20" fill="#f23645"/>
<rect x="823.30" y="144.50" width="1" height="19.70" fill="#089981"/>
<rect x="822.35" y="151.80" width="2.9" height="1.60" fill="#089981"/>
<rect x="827.46" y="148.90" width="1" height="21.60" fill="#f23645"/>
<rect x="826.51" y="151.90" width="2.9" height="15.80" fill="#f23645"/>
<rect x="831.62" y="162.50" width="1" height="18.50" fill="#f23645"/>
<rect x="830.67" y="168.00" width="2.9" height="4.20" fill="#f23645"/>
<rect x="835.78" y="163.60" width="1" height="12.90" fill="#089981"/>
<rect x="834.83" y="164.60" width="2.9" height="7.30" fill="#089981"/>
<circle cx="414" cy="246.8" r="6" fill="#1bd19f"/>
<path d="M411.40,248.70 L416.60,248.70 L414.00,244.70 Z" fill="#0a7a60"/>
<circle cx="419.8" cy="276" r="6" fill="#1bd19f"/>
<path d="M417.20,277.90 L422.40,277.90 L419.80,273.90 Z" fill="#0a7a60"/>
<circle cx="434" cy="304.7" r="6" fill="#1bd19f"/>
<path d="M431.40,306.60 L436.60,306.60 L434.00,302.60 Z" fill="#0a7a60"/>
<circle cx="557.2" cy="154.8" r="6" fill="#1bd19f"/>
<path d="M554.60,156.70 L559.80,156.70 L557.20,152.70 Z" fill="#0a7a60"/>
<circle cx="587" cy="186.1" r="6" fill="#1bd19f"/>
<path d="M584.40,188.00 L589.60,188.00 L587.00,184.00 Z" fill="#0a7a60"/>
<circle cx="616.8" cy="215.5" r="6" fill="#1bd19f"/>
<path d="M614.20,217.40 L619.40,217.40 L616.80,213.40 Z" fill="#0a7a60"/>
<circle cx="457.8" cy="260.9" r="6" fill="#f98a8f"/>
<path d="M455.20,259.10 L460.40,259.10 L457.80,263.10 Z" fill="#ee1c2c"/>
<circle cx="637" cy="170.7" r="6" fill="#f98a8f"/>
<path d="M634.40,168.90 L639.60,168.90 L637.00,172.90 Z" fill="#ee1c2c"/>
</svg>

<div class="t" style="left:88.00px;top:81.10px;font-size:11.2px;font-weight:bold;letter-spacing:0.36px;color:#2e2e35">Profit-Optimized Pairs</div>
<div class="t" style="left:88.00px;top:102.80px;font-size:7.86px;color:#3a3a40">Exchanges</div>
<div class="a" style="left:88.00px;top:112.80px;width:174.00px;height:25.00px;background:#e8e8f1;border-radius:3px"></div>
<div class="t" style="left:96.90px;top:122.10px;font-size:9.37px;color:#333">HyperLiquid Perps</div>
<svg class="a" style="left:246.60px;top:123.35px" width="7.40" height="4.70"><path d="M1,1 L3.70,3.70 L6.40,1" fill="none" stroke="#222" stroke-width="1.5" stroke-linecap="round" stroke-linejoin="round"/></svg>
<div class="t" style="left:88.00px;top:147.40px;font-size:8.28px;color:#3a3a40">Start conditions</div>
<div class="a" style="left:88.00px;top:157.20px;width:174.00px;height:25.10px;background:#e8e8f1;border-radius:3px"></div>
<div class="t" style="left:96.90px;top:166.30px;font-size:9.2px;color:#333">MACD</div>
<svg class="a" style="left:246.60px;top:167.65px" width="7.40" height="4.70"><path d="M1,1 L3.70,3.70 L6.40,1" fill="none" stroke="#222" stroke-width="1.5" stroke-linecap="round" stroke-linejoin="round"/></svg>
<div class="a" style="left:87.5px;top:189px;width:171px;height:300.7px;overflow:hidden">
<div class="a item" style="left:0.70px;top:1.40px"><div class="ihd"></div></div>
<div class="t" style="left:9.40px;top:7.10px;font-size:9px;color:#36363c">MOODENG-USDC</div>
<div class="a tag" style="left:107.80px;top:4.40px;width:23.50px">Long</div>
<div class="a tag" style="left:134.20px;top:4.40px;width:27.7px">MACD</div>
<div class="t" style="left:9.30px;top:29.30px;font-size:3.6px;font-weight:bold;color:#222;letter-spacing:0px">BYB<span style="color:#f7a600">I</span>T</div>
<svg class="a" style="left:21.20px;top:23.70px" width="12" height="12" viewBox="0 0 12 12"><path d="M9.0,3.6 A3.8,3.8 0 1 0 9.0,8.4" fill="none" stroke="#0f52ff" stroke-width="2.4"/></svg>
<svg class="a" style="left:34.50px;top:25.90px" width="11" height="8" viewBox="0 0 11 8"><ellipse cx="1.9" cy="3.9" rx="1.9" ry="2.6" fill="#8ff0d8"/><ellipse cx="8.3" cy="3.8" rx="1.9" ry="3.6" fill="#8ff0d8"/><rect x="1.8" y="2.7" width="6.4" height="2.4" fill="#8ff0d8"/></svg>
<div class="t" style="left:9.40px;top:41.90px;font-size:7px;color:#5a5a60">ROI</div>
<div class="t" style="left:9.40px;top:51.90px;font-size:15.6px;font-weight:bold;color:#16a57c">21.94%</div>
<div class="a prev" style="left:112.25px;top:49.30px">Preview</div>
<div class="a item" style="left:0.70px;top:79.20px"><div class="ihd"></div></div>
<div class="t" style="left:9.40px;top:84.90px;font-size:9px;color:#36363c">ALGO-USDC</div>
<div class="a tag" style="left:108.50px;top:82.20px;width:22.80px">Both</div>
<div class="a tag" style="left:134.20px;top:82.20px;width:27.7px">MACD</div>
<svg class="a" style="left:8.50px;top:102.60px" width="11" height="10" viewBox="0 0 11 10"><path d="M0.8,2.5 H7.0 A2.35,2.35 0 0 1 7.0,7.2 H0.8 M2.7,0.5 V9.7 M5.9,0.5 V2.5 M5.9,7.2 V9.7" fill="none" stroke="#22a386" stroke-width="1.45"/></svg>
<svg class="a" style="left:21.20px;top:101.50px" width="12" height="12" viewBox="0 0 12 12"><path d="M9.0,3.6 A3.8,3.8 0 1 0 9.0,8.4" fill="none" stroke="#0f52ff" stroke-width="2.4"/></svg>
<svg class="a" style="left:34.50px;top:103.70px" width="11" height="8" viewBox="0 0 11 8"><ellipse cx="1.9" cy="3.9" rx="1.9" ry="2.6" fill="#8ff0d8"/><ellipse cx="8.3" cy="3.8" rx="1.9" ry="3.6" fill="#8ff0d8"/><rect x="1.8" y="2.7" width="6.4" height="2.4" fill="#8ff0d8"/></svg>
<div class="t" style="left:9.40px;top:119.70px;font-size:7px;color:#5a5a60">ROI</div>
<div class="t" style="left:9.40px;top:129.70px;font-size:15.6px;font-weight:bold;color:#16a57c">19.72%</div>
<div class="a prev" style="left:112.25px;top:127.10px">Preview</div>
<div class="a item" style="left:0.70px;top:157.00px"><div class="ihd"></div></div>
<div class="t" style="left:9.40px;top:162.70px;font-size:9px;color:#36363c">TAO-USDC</div>
<div class="a tag" style="left:108.50px;top:160.00px;width:22.80px">Both</div>
<div class="a tag" style="left:134.20px;top:160.00px;width:27.7px">MACD</div>
<div class="t" style="left:9.30px;top:184.90px;font-size:3.6px;font-weight:bold;color:#222;letter-spacing:0px">BYB<span style="color:#f7a600">I</span>T</div>
<svg class="a" style="left:21.20px;top:179.30px" width="12" height="12" viewBox="0 0 12 12"><path d="M9.0,3.6 A3.8,3.8 0 1 0 9.0,8.4" fill="none" stroke="#0f52ff" stroke-width="2.4"/></svg>
<svg class="a" style="left:34.50px;top:181.50px" width="11" height="8" viewBox="0 0 11 8"><ellipse cx="1.9" cy="3.9" rx="1.9" ry="2.6" fill="#8ff0d8"/><ellipse cx="8.3" cy="3.8" rx="1.9" ry="3.6" fill="#8ff0d8"/><rect x="1.8" y="2.7" width="6.4" height="2.4" fill="#8ff0d8"/></svg>
<div class="t" style="left:9.40px;top:197.50px;font-size:7px;color:#5a5a60">ROI</div>
<div class="t" style="left:9.40px;top:207.50px;font-size:15.6px;font-weight:bold;color:#16a57c">18.55%</div>
<div class="a prev" style="left:112.25px;top:204.90px">Preview</div>
<div class="a item" style="left:0.70px;top:234.80px"><div class="ihd"></div></div>
<div class="t" style="left:9.40px;top:240.50px;font-size:9px;color:#36363c">VIRTUAL-USDC</div>
<div class="a tag" style="left:108.50px;top:237.80px;width:22.80px">Both</div>
<div class="a tag" style="left:134.20px;top:237.80px;width:27.7px">MACD</div>
<div class="t" style="left:9.30px;top:262.70px;font-size:3.6px;font-weight:bold;color:#222;letter-spacing:0px">BYB<span style="color:#f7a600">I</span>T</div>
<svg class="a" style="left:21.20px;top:257.10px" width="12" height="12" viewBox="0 0 12 12"><path d="M9.0,3.6 A3.8,3.8 0 1 0 9.0,8.4" fill="none" stroke="#0f52ff" stroke-width="2.4"/></svg>
<svg class="a" style="left:34.50px;top:259.30px" width="11" height="8" viewBox="0 0 11 8"><ellipse cx="1.9" cy="3.9" rx="1.9" ry="2.6" fill="#8ff0d8"/><ellipse cx="8.3" cy="3.8" rx="1.9" ry="3.6" fill="#8ff0d8"/><rect x="1.8" y="2.7" width="6.4" height="2.4" fill="#8ff0d8"/></svg>
<div class="t" style="left:9.40px;top:275.30px;font-size:7px;color:#5a5a60">ROI</div>
<div class="t" style="left:9.40px;top:285.30px;font-size:15.6px;font-weight:bold;color:#16a57c">16.98%</div>
<div class="a prev" style="left:112.25px;top:282.70px">Preview</div>
<div class="a" style="left:0;top:293.5px;width:171px;height:7.2px;background:linear-gradient(rgba(0,0,0,0),rgba(0,0,0,0.13))"></div>
</div>
<div class="a" style="left:258.60px;top:190.30px;width:3.40px;height:17.50px;background:#777;border-radius:2px"></div>
<svg class="a" style="left:306.8px;top:73.8px" width="9.4" height="9.4" viewBox="0 0 10 10"><circle cx="5" cy="5" r="5" fill="#f7931a"/><text x="5" y="7.4" font-size="7" font-weight="bold" fill="#fff" text-anchor="middle" font-family="Liberation Sans">8</text></svg>
<div class="t" style="left:318.75px;top:75.25px;font-size:8.17px;color:#222">Bitcoin / TetherUS PERPETUAL CONTRACT · 4h · Binance</div>
<svg class="a" style="left:539.6px;top:73.3px" width="10" height="10"><circle cx="5" cy="5" r="4.4" fill="#dcf3ed"/><circle cx="5" cy="5" r="2.3" fill="#0b6e55"/></svg>
<div class="t" style="left:553.60px;top:74.90px;font-size:7.73px;color:#f23645"><span style="color:#222">O</span>76,129.9 <span style="color:#222">H</span>76,332.6 <span style="color:#222">L</span>75,973.3 <span style="color:#222">C</span>76,096.0 &minus;33.9 (&minus;0.04%)</div>
<div class="a" style="left:307.10px;top:86.40px;width:16.00px;height:10.90px;border:1px solid #e3e4ea;border-radius:2px;background:#fff"></div>
<svg class="a" style="left:309.60px;top:89.65px" width="5.40" height="3.70"><path d="M1,1 L2.70,2.70 L4.40,1" fill="none" stroke="#333" stroke-width="0.9" stroke-linecap="round" stroke-linejoin="round"/></svg>
<div class="t" style="left:316.60px;top:88.60px;font-size:7.2px;color:#333">7</div>
<div class="a" style="left:847.90px;top:72.40px;width:33.00px;height:13.00px;border:1px solid #eceef2;border-radius:2px;background:#fff"></div>
<div class="t" style="left:849.80px;top:76.00px;font-size:6.6px;color:#333">USDT</div>
<svg class="a" style="left:874.80px;top:77.35px" width="4.60" height="3.30"><path d="M1,1 L2.30,2.30 L3.60,1" fill="none" stroke="#333" stroke-width="0.9" stroke-linecap="round" stroke-linejoin="round"/></svg>
<div class="t" style="right:855.0px;top:83.72px;font-size:6.9px;color:#333">0.5</div>
<div class="t" style="right:855.0px;top:113.02px;font-size:6.9px;color:#333">0.4</div>
<div class="t" style="right:855.0px;top:142.32px;font-size:6.9px;color:#333">0.3</div>
<div class="t" style="right:855.0px;top:171.62px;font-size:6.9px;color:#333">0.2</div>
<div class="t" style="right:855.0px;top:200.92px;font-size:6.9px;color:#333">0.1</div>
<div class="t" style="right:855.0px;top:230.22px;font-size:6.9px;color:#333">0.0</div>
<div class="t" style="right:855.0px;top:259.52px;font-size:6.9px;color:#333">&minus;0.1</div>
<div class="t" style="right:855.0px;top:288.82px;font-size:6.9px;color:#333">&minus;0.2</div>
<div class="t" style="right:855.0px;top:318.12px;font-size:6.9px;color:#333">&minus;0.3</div>
<div class="t" style="right:855.0px;top:347.42px;font-size:6.9px;color:#333">&minus;0.4</div>
<div class="t" style="right:855.0px;top:376.72px;font-size:6.9px;color:#333">&minus;0.5</div>
<div class="t" style="left:850.60px;top:94.83px;font-size:6.94px;color:#333">79,000.0</div>
<div class="t" style="left:850.60px;top:119.76px;font-size:6.94px;color:#333">78,000.0</div>
<div class="t" style="left:850.60px;top:144.69px;font-size:6.94px;color:#333">77,000.0</div>
<div class="t" style="left:850.60px;top:194.55px;font-size:6.94px;color:#333">75,000.0</div>
<div class="t" style="left:850.60px;top:219.48px;font-size:6.94px;color:#333">74,000.0</div>
<div class="t" style="left:850.60px;top:244.41px;font-size:6.94px;color:#333">73,000.0</div>
<div class="t" style="left:850.60px;top:269.34px;font-size:6.94px;color:#333">72,000.0</div>
<div class="t" style="left:850.60px;top:294.27px;font-size:6.94px;color:#333">71,000.0</div>
<div class="t" style="left:850.60px;top:319.20px;font-size:6.94px;color:#333">70,000.0</div>
<div class="t" style="left:850.60px;top:344.13px;font-size:6.94px;color:#333">69,000.0</div>
<div class="t" style="left:850.60px;top:369.06px;font-size:6.94px;color:#333">68,000.0</div>
<div class="a" style="left:845.90px;top:165.90px;width:34.90px;height:16.10px;background:#f23645;border-radius:1px"></div>
<div class="t" style="left:849.30px;top:167.83px;font-size:6.94px;color:#fff">76,096.0</div>
<div class="t" style="left:849.30px;top:175.13px;font-size:6.94px;color:#fff">02:00:51</div>
<div class="a" style="left:275.90px;top:404.25px;width:129.60px;height:15.85px;background:#e9e9f1;border-radius:2px"></div>
<div class="a" style="left:277.20px;top:406.10px;width:61.60px;height:12.50px;background:#0042cc;border-radius:2px"></div>
<div class="t" style="left:300.00px;top:410.75px;font-size:5.9px;color:#fff">Active</div>
<div class="t" style="left:361.80px;top:410.78px;font-size:5.96px;color:#55555c">Stopped</div>
<div class="a" style="left:412.10px;top:404.60px;width:52.50px;height:16.40px;background:#e9e9f1;border-radius:2px"></div>
<div class="t" style="left:417.60px;top:410.88px;font-size:5.97px;color:#333">All markets</div>
<svg class="a" style="left:454.00px;top:410.70px" width="6.00" height="4.00"><path d="M1,1 L3.00,3.00 L5.00,1" fill="none" stroke="#222" stroke-width="1.1" stroke-linecap="round" stroke-linejoin="round"/></svg>
<div class="a" style="left:469.80px;top:404.60px;width:64.70px;height:16.40px;background:#e9e9f1;border-radius:2px"></div>
<div class="t" style="left:475.30px;top:410.88px;font-size:5.97px;color:#333">All exchanges</div>
<svg class="a" style="left:523.80px;top:410.70px" width="6.00" height="4.00"><path d="M1,1 L3.00,3.00 L5.00,1" fill="none" stroke="#222" stroke-width="1.1" stroke-linecap="round" stroke-linejoin="round"/></svg>
<div class="a" style="left:539.50px;top:404.60px;width:49.60px;height:16.40px;background:#e9e9f1;border-radius:2px"></div>
<div class="t" style="left:544.90px;top:410.88px;font-size:5.97px;color:#333">All pairs</div>
<svg class="a" style="left:578.50px;top:410.70px" width="6.00" height="4.00"><path d="M1,1 L3.00,3.00 L5.00,1" fill="none" stroke="#222" stroke-width="1.1" stroke-linecap="round" stroke-linejoin="round"/></svg>
<div class="a" style="left:866.20px;top:404.60px;width:16.50px;height:16.10px;background:#0a2470;border-radius:2px"></div>
<svg class="a" style="left:869.4px;top:407.8px" width="10" height="10" viewBox="0 0 24 24"><path d="M12,8.5 A3.5,3.5 0 1 0 12,15.5 A3.5,3.5 0 1 0 12,8.5 Z M19.4,13 L21.5,14.6 L19.5,18.1 L17,17.1 C16.4,17.6 15.7,18 15,18.3 L14.6,21 H10.6 L10.2,18.3 C9.5,18 8.8,17.6 8.2,17.1 L5.7,18.1 L3.7,14.6 L5.8,13 C5.7,12.3 5.7,11.7 5.8,11 L3.7,9.4 L5.7,5.9 L8.2,6.9 C8.8,6.4 9.5,6 10.2,5.7 L10.6,3 H14.6 L15,5.7 C15.7,6 16.4,6.4 17,6.9 L19.5,5.9 L21.5,9.4 L19.4,11 C19.5,11.7 19.5,12.3 19.4,13 Z" fill="none" stroke="#fff" stroke-width="1.8"/></svg>
<div class="a" style="left:276.20px;top:429.10px;width:606.30px;height:26.00px;background:#e9e9f1;border-radius:3px 3px 0 0"></div>
<div class="a" style="left:276.20px;top:455.10px;width:606.30px;height:39.90px;background:#fff;border-bottom:1px solid #e6e7ee"></div>
<div class="a" style="left:276.20px;top:495.00px;width:606.30px;height:3.00px;background:#fff"></div>
<div class="t" style="left:282.00px;top:437.39px;font-size:4.9px;font-weight:bold;color:#222">Pair</div>
<div class="t" style="left:282.00px;top:443.91px;font-size:4.95px;color:#666">Exchange</div>
<svg class="a" style="left:307.3px;top:435.8px" width="4.5" height="5.6" viewBox="0 0 9 11"><path d="M2.5,10 V2 M0.5,4 L2.5,1.5 L4.5,4 M6.5,1 V9 M4.5,7 L6.5,9.5 L8.5,7" fill="none" stroke="#2a5ee0" stroke-width="1.6"/></svg>
<div class="t" style="left:398.20px;top:437.39px;font-size:4.9px;font-weight:bold;color:#222">Date started</div>
<div class="t" style="left:398.20px;top:443.91px;font-size:4.95px;color:#666">In trading</div>
<div class="t" style="left:466.80px;top:437.39px;font-size:4.9px;font-weight:bold;color:#222">DCA</div>
<div class="t" style="left:466.80px;top:443.91px;font-size:4.95px;color:#666"></div>
<div class="t" style="left:544.00px;top:437.39px;font-size:4.9px;font-weight:bold;color:#222">Investment</div>
<div class="t" style="left:544.00px;top:443.91px;font-size:4.95px;color:#666">Amount per trade</div>
<div class="t" style="left:604.80px;top:437.39px;font-size:4.9px;font-weight:bold;color:#222">Realized P/L</div>
<div class="t" style="left:604.80px;top:443.91px;font-size:4.95px;color:#666">Realized trades</div>
<div class="t" style="left:658.80px;top:437.39px;font-size:4.9px;font-weight:bold;color:#222">Unrealized P/L</div>
<div class="t" style="left:658.80px;top:443.91px;font-size:4.95px;color:#666">Unrealized trades</div>
<div class="t" style="left:720.20px;top:437.39px;font-size:4.9px;font-weight:bold;color:#222">Total P/L</div>
<div class="t" style="left:720.20px;top:443.91px;font-size:4.95px;color:#666"></div>
<div class="t" style="left:755.70px;top:437.39px;font-size:4.9px;font-weight:bold;color:#222">Actions</div>
<div class="t" style="left:755.70px;top:443.91px;font-size:4.95px;color:#666"></div>
<div class="t" style="left:282.00px;top:465.53px;font-size:4.75px;color:#333">SOLUSDT</div>
<svg class="a" style="left:306.3px;top:463.7px" width="4" height="6"><path d="M0.8,0.6 L3,2.9 L0.8,5.2" fill="none" stroke="#222" stroke-width="1.3"/></svg>
<div class="a" style="left:282.00px;top:473.00px;width:5.00px;height:1.00px;background:#8a8a90"></div>
<div class="t" style="left:289.20px;top:471.29px;font-size:5.18px;color:#555">Bybit Futures</div>
<div class="t" style="left:321.60px;top:471.86px;font-size:4.0px;color:#15a57c;font-weight:bold">DEMO</div>
<div class="t" style="left:282.00px;top:478.16px;font-size:5.1px;color:#555">8645</div>
<div class="a" style="left:282.00px;top:484.80px;width:14.30px;height:6.20px;background:#12a37d;border-radius:1px"></div>
<div class="t" style="left:283.60px;top:486.69px;font-size:4.9px;color:#fff;font-weight:bold">Long</div>
<div class="t" style="left:398.20px;top:464.69px;font-size:5.18px;color:#444">28.02.2025 17:55:10</div>
<div class="t" style="left:398.20px;top:471.29px;font-size:5.18px;color:#555">425d 18h</div>
<div class="t" style="left:466.80px;top:464.69px;font-size:5.18px;color:#444">20 orders</div>
<div class="t" style="left:466.80px;top:471.59px;font-size:5.18px;color:#444">1.6% price deviation</div>
<div class="t" style="left:466.80px;top:478.49px;font-size:5.18px;color:#444">1.1x volume mult.</div>
<div class="t" style="left:466.80px;top:485.39px;font-size:5.18px;color:#444">1x price deviation mult.</div>
<div class="t" style="left:544.00px;top:464.69px;font-size:5.18px;color:#444">-</div>
<div class="t" style="left:544.00px;top:471.29px;font-size:5.18px;color:#555">100 USDT</div>
<div class="t" style="left:604.80px;top:464.69px;font-size:5.18px;color:#444">$1,690.25</div>
<div class="t" style="left:604.80px;top:471.29px;font-size:5.18px;color:#555">407</div>
<div class="t" style="left:658.80px;top:464.69px;font-size:5.18px;color:#444">-$1,457.72</div>
<div class="t" style="left:658.80px;top:471.29px;font-size:5.18px;color:#555">1</div>
<div class="t" style="left:720.20px;top:464.69px;font-size:5.18px;color:#15a57c">$232.53</div>
<svg class="a" style="left:750px;top:458px" width="100" height="20" viewBox="0 0 100 20">
<circle cx="10" cy="9.7" r="3.6" fill="none" stroke="#2f5fe0" stroke-width="0.9"/><line x1="10" y1="8.3" x2="10" y2="11.6" stroke="#2f5fe0" stroke-width="0.9"/>
<path d="M23.3,12.8 L23.6,11.2 L28.2,6.6 L29.4,7.8 L24.8,12.4 Z" fill="none" stroke="#2f5fe0" stroke-width="0.9"/><line x1="26.8" y1="12.6" x2="30.4" y2="12.6" stroke="#2f5fe0" stroke-width="1"/>
<rect x="39.3" y="6.3" width="7.4" height="7.2" rx="1.3" fill="none" stroke="#2f5fe0" stroke-width="0.9"/><line x1="41" y1="8.6" x2="45" y2="8.6" stroke="#2f5fe0" stroke-width="0.8"/><line x1="41" y1="10.4" x2="44.6" y2="10.4" stroke="#2f5fe0" stroke-width="0.8"/><line x1="41" y1="12" x2="43" y2="12" stroke="#2f5fe0" stroke-width="0.8"/>
<rect x="56" y="7" width="6" height="5.8" fill="#0b3fd0"/>
<rect x="72.3" y="6.8" width="5.6" height="6.6" rx="0.8" fill="none" stroke="#c3d0f5" stroke-width="0.9"/><line x1="75.1" y1="8.3" x2="75.1" y2="12" stroke="#c3d0f5" stroke-width="0.7"/>
<path d="M91.5,9.5 V12.7 H87.8 V7.2 H89.6" fill="none" stroke="#2f5fe0" stroke-width="0.9"/><path d="M88.8,11.3 C89.4,9.2 91,8.3 93.8,8.3 M92.4,6.9 L94.4,8.3 L92.4,9.7" fill="none" stroke="#2f5fe0" stroke-width="0.9"/>
</svg>
<div class="t" style="left:894.60px;top:79.40px;font-size:10px;font-weight:bold;letter-spacing:-0.15px;color:#2e2e35">Create DCA Bot</div>
<div class="t" style="left:894.60px;top:95.50px;font-size:6.66px;color:#3a3a40">Exchange account</div>
<div class="a" style="left:894.60px;top:103.50px;width:177.10px;height:21.20px;background:#e8e8f1;border-radius:3px"></div>
<svg class="a" style="left:901.8px;top:111.2px" width="8" height="6" viewBox="0 0 11 8"><ellipse cx="1.9" cy="3.9" rx="1.9" ry="2.6" fill="#8ff0d8"/><ellipse cx="8.3" cy="3.8" rx="1.9" ry="3.6" fill="#8ff0d8"/><rect x="1.8" y="2.7" width="6.4" height="2.4" fill="#8ff0d8"/></svg>
<div class="t" style="left:913.50px;top:106.75px;font-size:6.72px;color:#333">HyperLiquid Perps</div>
<div class="t" style="left:913.50px;top:116.36px;font-size:6.75px;color:#333">WunderTrading-777</div>
<svg class="a" style="left:1058.20px;top:112.05px" width="6.60" height="4.30"><path d="M1,1 L3.30,3.30 L5.60,1" fill="none" stroke="#222" stroke-width="1.4" stroke-linecap="round" stroke-linejoin="round"/></svg>
<div class="t" style="left:894.60px;top:132.20px;font-size:6.66px;color:#3a3a40">Pair</div>
<div class="a" style="left:894.60px;top:141.30px;width:177.10px;height:20.40px;background:#e8e8f1;border-radius:3px"></div>
<svg class="a" style="left:901.5px;top:146.8px" width="10" height="10" viewBox="0 0 10 10"><circle cx="3.9" cy="3.9" r="2.9" fill="none" stroke="#2f5fe0" stroke-width="1.2"/><line x1="6" y1="6" x2="9" y2="9" stroke="#2f5fe0" stroke-width="1.4" stroke-linecap="round"/></svg>
<div class="t" style="left:917.30px;top:148.62px;font-size:7.72px;color:#333">BTC-USDC</div>
<svg class="a" style="left:1058.20px;top:149.35px" width="6.60" height="4.30"><path d="M1,1 L3.30,3.30 L5.60,1" fill="none" stroke="#222" stroke-width="1.4" stroke-linecap="round" stroke-linejoin="round"/></svg>
<div class="t" style="left:894.60px;top:171.10px;font-size:7.4px;font-weight:bold;color:#2e2e35">Direction</div>
<svg class="a" style="left:894.80px;top:182.10px" width="12" height="12"><circle cx="6" cy="6" r="4.6" fill="#fff" stroke="#3b6fe6" stroke-width="1.3"/><circle cx="6" cy="6" r="2.7" fill="#2f62e0"/></svg>
<div class="t" style="left:911.60px;top:184.95px;font-size:7.8px;color:#3d3d44">Long</div>
<svg class="a" style="left:933.50px;top:182.10px" width="12" height="12"><circle cx="6" cy="6" r="4.6" fill="#fff" stroke="#333" stroke-width="1.15"/></svg>
<div class="t" style="left:950.10px;top:184.95px;font-size:7.8px;color:#3d3d44">Short</div>
<svg class="a" style="left:973.80px;top:182.10px" width="12" height="12"><circle cx="6" cy="6" r="4.6" fill="#fff" stroke="#333" stroke-width="1.15"/></svg>
<div class="t" style="left:990.80px;top:184.95px;font-size:7.8px;color:#3d3d44">Both</div>
<div class="t" style="left:894.60px;top:214.50px;font-size:7.47px;font-weight:bold;color:#2e2e35">Bot start condition</div>
<svg class="a" style="left:894.50px;top:226.00px" width="12" height="12"><circle cx="6" cy="6" r="4.6" fill="#fff" stroke="#333" stroke-width="1.15"/></svg>
<div class="t" style="left:911.40px;top:228.85px;font-size:7.8px;color:#3d3d44">Immediate</div>
<svg class="a" style="left:952.40px;top:226.00px" width="12" height="12"><circle cx="6" cy="6" r="4.6" fill="#fff" stroke="#3b6fe6" stroke-width="1.3"/><circle cx="6" cy="6" r="2.7" fill="#2f62e0"/></svg>
<div class="t" style="left:969.30px;top:228.85px;font-size:7.8px;color:#3d3d44">Indicator</div>
<div class="a" style="left:894.60px;top:244.60px;width:176.70px;height:20.50px;background:#e8e8f1;border-radius:3px"></div>
<div class="t" style="left:902.00px;top:251.60px;font-size:7.68px;color:#333">BB (Bollinger Bands)</div>
<svg class="a" style="left:1058.00px;top:252.65px" width="6.60" height="4.30"><path d="M1,1 L3.30,3.30 L5.60,1" fill="none" stroke="#222" stroke-width="1.4" stroke-linecap="round" stroke-linejoin="round"/></svg>
<div class="t" style="left:894.20px;top:284.40px;font-size:7.47px;font-weight:bold;color:#2e2e35">DCA</div>
<svg class="a" style="left:894.10px;top:295.90px" width="12" height="12"><circle cx="6" cy="6" r="4.6" fill="#fff" stroke="#333" stroke-width="1.15"/></svg>
<div class="t" style="left:910.80px;top:298.75px;font-size:7.8px;color:#3d3d44">Auto</div>
<svg class="a" style="left:932.00px;top:295.90px" width="12" height="12"><circle cx="6" cy="6" r="4.6" fill="#fff" stroke="#3b6fe6" stroke-width="1.3"/><circle cx="6" cy="6" r="2.7" fill="#2f62e0"/></svg>
<div class="t" style="left:948.70px;top:298.75px;font-size:7.8px;color:#3d3d44">Custom</div>
<div class="t" style="left:894.20px;top:320.23px;font-size:6.67px;color:#3a3a40">DCA Mode</div>
<svg class="a" style="left:928.50px;top:318.80px" width="8" height="8" viewBox="0 0 8 8"><circle cx="4" cy="4" r="3.2" fill="none" stroke="#3366e0" stroke-width="0.8"/><path d="M2.9,3.2 C2.9,2.4 3.4,2.1 4,2.1 C4.7,2.1 5.1,2.5 5.1,3.1 C5.1,3.9 4,3.9 4,4.8" fill="none" stroke="#3366e0" stroke-width="0.75"/><circle cx="4" cy="5.9" r="0.45" fill="#3366e0"/></svg>
<svg class="a" style="left:894.10px;top:329.80px" width="12" height="12"><circle cx="6" cy="6" r="4.6" fill="#fff" stroke="#333" stroke-width="1.15"/></svg>
<div class="t" style="left:910.80px;top:332.65px;font-size:7.8px;color:#3d3d44">Order averaging</div>
<svg class="a" style="left:972.50px;top:329.80px" width="12" height="12"><circle cx="6" cy="6" r="4.6" fill="#fff" stroke="#3b6fe6" stroke-width="1.3"/><circle cx="6" cy="6" r="2.7" fill="#2f62e0"/></svg>
<div class="t" style="left:988.60px;top:332.65px;font-size:7.8px;color:#3d3d44">Position averaging</div>
<div class="t" style="left:894.20px;top:351.06px;font-size:6.74px;color:#3a3a40">Averaging method</div>
<svg class="a" style="left:951.00px;top:349.60px" width="8" height="8" viewBox="0 0 8 8"><circle cx="4" cy="4" r="3.2" fill="none" stroke="#3366e0" stroke-width="0.8"/><path d="M2.9,3.2 C2.9,2.4 3.4,2.1 4,2.1 C4.7,2.1 5.1,2.5 5.1,3.1 C5.1,3.9 4,3.9 4,4.8" fill="none" stroke="#3366e0" stroke-width="0.75"/><circle cx="4" cy="5.9" r="0.45" fill="#3366e0"/></svg>
<svg class="a" style="left:894.10px;top:360.90px" width="12" height="12"><circle cx="6" cy="6" r="4.6" fill="#fff" stroke="#3b6fe6" stroke-width="1.3"/><circle cx="6" cy="6" r="2.7" fill="#2f62e0"/></svg>
<div class="t" style="left:910.80px;top:363.75px;font-size:7.8px;color:#3d3d44">Fixed coin amount</div>
<svg class="a" style="left:979.80px;top:360.90px" width="12" height="12"><circle cx="6" cy="6" r="4.6" fill="#fff" stroke="#333" stroke-width="1.15"/></svg>
<div class="t" style="left:996.70px;top:363.75px;font-size:7.8px;color:#3d3d44">Fixed order value</div>
<div class="t" style="left:894.20px;top:381.94px;font-size:6.68px;color:#3a3a40">Max DCA orders</div>
<svg class="a" style="left:945.50px;top:380.50px" width="8" height="8" viewBox="0 0 8 8"><circle cx="4" cy="4" r="3.2" fill="none" stroke="#3366e0" stroke-width="0.8"/><path d="M2.9,3.2 C2.9,2.4 3.4,2.1 4,2.1 C4.7,2.1 5.1,2.5 5.1,3.1 C5.1,3.9 4,3.9 4,4.8" fill="none" stroke="#3366e0" stroke-width="0.75"/><circle cx="4" cy="5.9" r="0.45" fill="#3366e0"/></svg>
<div class="t" style="left:985.00px;top:381.94px;font-size:6.69px;color:#3a3a40">Price deviation</div>
<svg class="a" style="left:1031.60px;top:380.50px" width="8" height="8" viewBox="0 0 8 8"><circle cx="4" cy="4" r="3.2" fill="none" stroke="#3366e0" stroke-width="0.8"/><path d="M2.9,3.2 C2.9,2.4 3.4,2.1 4,2.1 C4.7,2.1 5.1,2.5 5.1,3.1 C5.1,3.9 4,3.9 4,4.8" fill="none" stroke="#3366e0" stroke-width="0.75"/><circle cx="4" cy="5.9" r="0.45" fill="#3366e0"/></svg>
<div class="a" style="left:893.70px;top:391.10px;width:86.80px;height:20.70px;background:#e8e8f1;border-radius:3px"></div>
<div class="a" style="left:985.00px;top:391.10px;width:86.50px;height:20.70px;background:#e8e8f1;border-radius:3px"></div>
<div class="t" style="left:902.50px;top:398.76px;font-size:8.1px;color:#333">20</div>
<svg class="a" style="left:970.20px;top:395.50px" width="6" height="12"><path d="M1,3.6 L3,1.8 L5,3.6 M1,8.4 L3,10.2 L5,8.4" fill="none" stroke="#3366e0" stroke-width="0.9"/></svg>
<div class="t" style="left:993.30px;top:398.72px;font-size:8.0px;color:#333">0.8</div>
<svg class="a" style="left:1061.00px;top:395.50px" width="6" height="12"><path d="M1,3.6 L3,1.8 L5,3.6 M1,8.4 L3,10.2 L5,8.4" fill="none" stroke="#3366e0" stroke-width="0.9"/></svg>
<div class="t" style="left:894.20px;top:418.27px;font-size:6.77px;color:#3a3a40">Order size multiplier</div>
<svg class="a" style="left:956.60px;top:416.80px" width="8" height="8" viewBox="0 0 8 8"><circle cx="4" cy="4" r="3.2" fill="none" stroke="#3366e0" stroke-width="0.8"/><path d="M2.9,3.2 C2.9,2.4 3.4,2.1 4,2.1 C4.7,2.1 5.1,2.5 5.1,3.1 C5.1,3.9 4,3.9 4,4.8" fill="none" stroke="#3366e0" stroke-width="0.75"/><circle cx="4" cy="5.9" r="0.45" fill="#3366e0"/></svg>
<div class="t" style="left:985.00px;top:418.27px;font-size:6.77px;color:#3a3a40">Price dev. multiplier</div>
<svg class="a" style="left:1046.20px;top:416.80px" width="8" height="8" viewBox="0 0 8 8"><circle cx="4" cy="4" r="3.2" fill="none" stroke="#3366e0" stroke-width="0.8"/><path d="M2.9,3.2 C2.9,2.4 3.4,2.1 4,2.1 C4.7,2.1 5.1,2.5 5.1,3.1 C5.1,3.9 4,3.9 4,4.8" fill="none" stroke="#3366e0" stroke-width="0.75"/><circle cx="4" cy="5.9" r="0.45" fill="#3366e0"/></svg>
<div class="a" style="left:893.70px;top:427.40px;width:86.80px;height:20.90px;background:#e8e8f1;border-radius:3px"></div>
<div class="a" style="left:985.00px;top:427.40px;width:86.50px;height:20.90px;background:#e8e8f1;border-radius:3px"></div>
<div class="t" style="left:902.50px;top:434.82px;font-size:8.0px;color:#333">1</div>
<svg class="a" style="left:970.20px;top:431.80px" width="6" height="12"><path d="M1,3.6 L3,1.8 L5,3.6 M1,8.4 L3,10.2 L5,8.4" fill="none" stroke="#3366e0" stroke-width="0.9"/></svg>
<div class="t" style="left:993.30px;top:434.82px;font-size:8.0px;color:#333">1.2</div>
<svg class="a" style="left:1061.00px;top:431.80px" width="6" height="12"><path d="M1,3.6 L3,1.8 L5,3.6 M1,8.4 L3,10.2 L5,8.4" fill="none" stroke="#3366e0" stroke-width="0.9"/></svg>
<div class="t" style="left:894.20px;top:455.80px;font-size:7.54px;font-weight:bold;color:#2e2e35">Take Profit</div>
<div class="t" style="left:894.20px;top:467.12px;font-size:6.9px;color:#3a3a40">Take profit target</div>
<div class="a" style="left:893.70px;top:476.50px;width:177.80px;height:21.50px;background:#e8e8f1;border-radius:3px"></div>
<div class="t" style="left:902.50px;top:484.02px;font-size:8.0px;color:#333">0.8</div>
<div class="t" style="left:1051.00px;top:484.02px;font-size:8.0px;color:#555">%</div>
<svg class="a" style="left:1061.00px;top:480.80px" width="6" height="12"><path d="M1,3.6 L3,1.8 L5,3.6 M1,8.4 L3,10.2 L5,8.4" fill="none" stroke="#3366e0" stroke-width="0.9"/></svg>

<div class="pill" style="left:30.8px;top:37px;width:174.20px;height:29.00px;border-radius:14.50px"></div>
<div class="t" style="left:43.20px;top:44.70px;font-size:14.7px;font-weight:bold;color:#fff">Ready-made presets</div>
<div class="pill" style="left:714px;top:29.8px;width:147.00px;height:28.95px;border-radius:14.47px"></div>
<div class="t" style="left:727.30px;top:37.70px;font-size:14.41px;font-weight:bold;color:#fff">Backtest any idea</div>
<div class="pill" style="left:996.9px;top:199.2px;width:143.10px;height:28.40px;border-radius:14.20px"></div>
<div class="t" style="left:1006.60px;top:206.60px;font-size:14.5px;font-weight:bold;color:#fff">Built-in indicators</div>
<div class="pill" style="left:712.9px;top:384px;width:143.00px;height:28.60px;border-radius:14.30px"></div>
<div class="t" style="left:723.40px;top:391.80px;font-size:14.45px;font-weight:bold;color:#fff">Risk management</div>
</div></body></html>
